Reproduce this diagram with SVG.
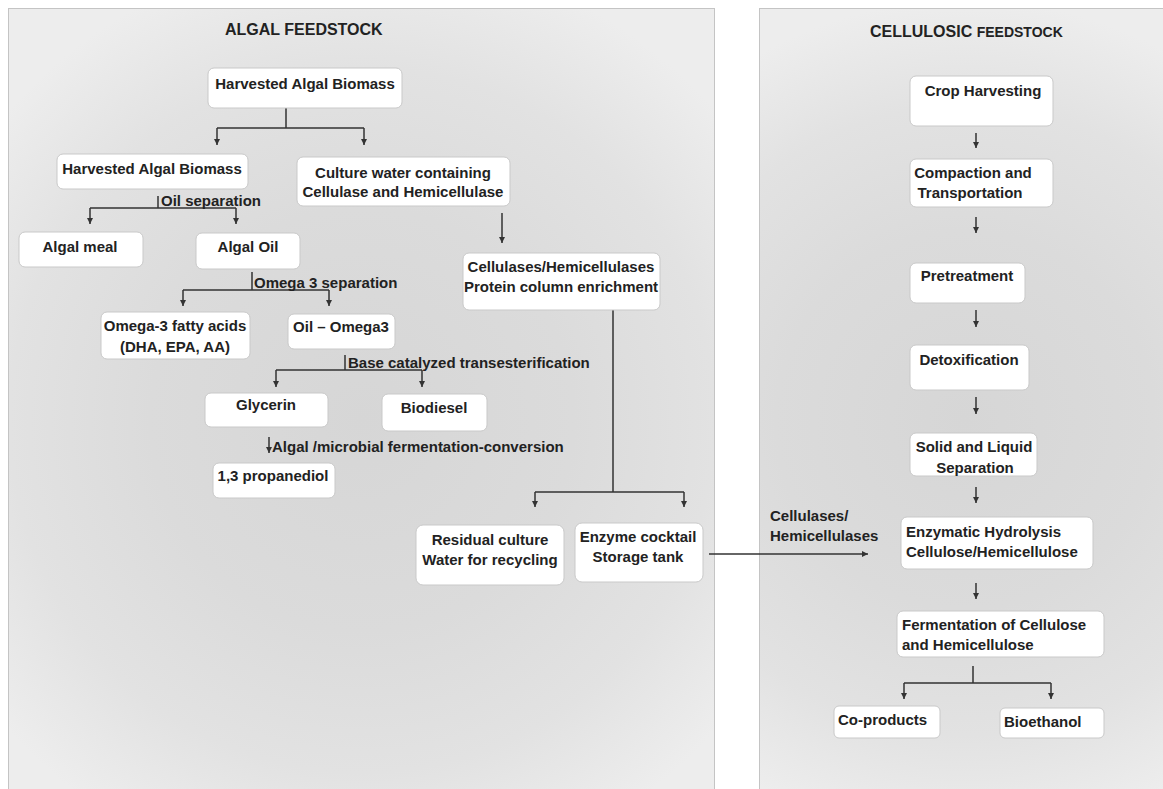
<svg xmlns="http://www.w3.org/2000/svg" width="1163" height="789" viewBox="0 0 1163 789">
<defs>
<radialGradient id="gL" gradientUnits="userSpaceOnUse" cx="362" cy="420" r="470">
<stop offset="0" stop-color="#d6d6d6"/>
<stop offset="0.45" stop-color="#dbdbdb"/>
<stop offset="0.75" stop-color="#e2e2e2"/>
<stop offset="1" stop-color="#ededed"/>
</radialGradient>
<radialGradient id="gR" gradientUnits="userSpaceOnUse" cx="965" cy="420" r="420">
<stop offset="0" stop-color="#d6d6d6"/>
<stop offset="0.45" stop-color="#dbdbdb"/>
<stop offset="0.75" stop-color="#e2e2e2"/>
<stop offset="1" stop-color="#ededed"/>
</radialGradient>
<marker id="ah" viewBox="0 0 10 10" refX="10" refY="5" markerWidth="6" markerHeight="6" markerUnits="userSpaceOnUse" orient="auto">
<path d="M0,0 L10,5 L0,10 z" fill="#333"/>
</marker>
</defs>
<style>
.panel{stroke:#c4c4c4;stroke-width:1}
.box{fill:#ffffff;stroke:#c9c9c9;stroke-width:1}
text{font-family:"Liberation Sans",Arial,sans-serif;font-weight:bold;font-size:15px;fill:#222}
.c{text-anchor:middle}
.title{font-size:16px}
.ln{fill:none;stroke:#333;stroke-width:1.5}
.ar{fill:none;stroke:#333;stroke-width:1.5;marker-end:url(#ah)}
</style>
<rect x="0" y="0" width="1163" height="789" fill="#ffffff"/>
<rect class="panel" x="8.5" y="8.5" width="706" height="800" fill="url(#gL)"/>
<rect class="panel" x="759.5" y="8.5" width="420" height="800" fill="url(#gR)"/>
<text class="title" x="225" y="35">ALGAL FEEDSTOCK</text>
<text class="title" x="870" y="37">CELLULOSIC <tspan font-size="14">FEEDSTOCK</tspan></text>

<g id="connectors">
<path class="ln" d="M286,108 V128 M217,128 H364"/>
<path class="ar" d="M217,128 V145"/>
<path class="ar" d="M364,128 V145"/>
<path class="ln" d="M158,196 V208 M90,208 H236"/>
<path class="ar" d="M90,208 V224"/>
<path class="ar" d="M236,208 V224"/>
<path class="ar" d="M502,213 V243"/>
<path class="ln" d="M252,272 V290 M183,290 H329"/>
<path class="ar" d="M183,290 V306"/>
<path class="ar" d="M329,290 V306"/>
<path class="ln" d="M345,355 V370 M276,370 H422"/>
<path class="ar" d="M276,370 V387"/>
<path class="ar" d="M422,370 V387"/>
<path class="ar" d="M269,437 V453"/>
<path class="ln" d="M613,310 V492 M535,492 H684"/>
<path class="ar" d="M535,492 V507"/>
<path class="ar" d="M684,492 V507"/>
<path class="ar" d="M709,554 H868"/>
<path class="ar" d="M976,133 V148"/>
<path class="ar" d="M976,217 V233"/>
<path class="ar" d="M976,310 V327"/>
<path class="ar" d="M976,397 V414"/>
<path class="ar" d="M976,487 V503"/>
<path class="ar" d="M976,583 V599"/>
<path class="ln" d="M973,666 V683 M904,683 H1051"/>
<path class="ar" d="M904,683 V699"/>
<path class="ar" d="M1051,683 V699"/>
<text x="161" y="206">Oil separation</text>
<text x="254" y="288">Omega 3 separation</text>
<text x="348" y="368">Base catalyzed transesterification</text>
<text x="272" y="452">Algal /microbial fermentation-conversion</text>
<text x="770" y="521">Cellulases/</text>
<text x="770" y="541">Hemicellulases</text>
</g>

<g id="n_top_biomass"><rect class="box" x="208" y="68" width="194" height="40" rx="6"/><text class="c" x="305" y="89">Harvested Algal Biomass</text></g>
<g id="n_biomass2"><rect class="box" x="57" y="154" width="191" height="35" rx="6"/><text class="c" x="152" y="174">Harvested Algal Biomass</text></g>
<g id="n_culture_water"><rect class="box" x="297" y="157" width="213" height="49" rx="6"/><text class="c" x="403" y="178">Culture water containing</text><text class="c" x="403" y="197">Cellulase and Hemicellulase</text></g>
<g id="n_algal_meal"><rect class="box" x="19" y="232" width="124" height="35" rx="6"/><text class="c" x="80" y="252">Algal meal</text></g>
<g id="n_algal_oil"><rect class="box" x="196" y="233" width="104" height="36" rx="6"/><text class="c" x="248" y="252">Algal Oil</text></g>
<g id="n_enrichment"><rect class="box" x="463" y="253" width="197" height="57" rx="6"/><text class="c" x="561" y="272">Cellulases/Hemicellulases</text><text class="c" x="561" y="292">Protein column enrichment</text></g>
<g id="n_omega3"><rect class="box" x="101" y="312" width="149" height="47" rx="6"/><text class="c" x="175" y="331">Omega-3 fatty acids</text><text class="c" x="175" y="352">(DHA, EPA, AA)</text></g>
<g id="n_oil_omega3"><rect class="box" x="288" y="314" width="107" height="35" rx="6"/><text class="c" x="341" y="332">Oil – Omega3</text></g>
<g id="n_glycerin"><rect class="box" x="205" y="393" width="123" height="34" rx="6"/><text class="c" x="266" y="410">Glycerin</text></g>
<g id="n_biodiesel"><rect class="box" x="382" y="394" width="105" height="37" rx="6"/><text class="c" x="434" y="413">Biodiesel</text></g>
<g id="n_propanediol"><rect class="box" x="213" y="463" width="122" height="35" rx="6"/><text class="c" x="273" y="481">1,3 propanediol</text></g>
<g id="n_residual"><rect class="box" x="416" y="525" width="148" height="60" rx="7"/><text class="c" x="490" y="545">Residual culture</text><text class="c" x="490" y="565">Water for recycling</text></g>
<g id="n_cocktail"><rect class="box" x="575" y="523" width="128" height="59" rx="7"/><text class="c" x="638" y="542">Enzyme cocktail</text><text class="c" x="638" y="562">Storage tank</text></g>

<g id="n_crop"><rect class="box" x="910" y="76" width="143" height="50" rx="6"/><text class="c" x="983" y="96">Crop Harvesting</text></g>
<g id="n_compaction"><rect class="box" x="910" y="159" width="143" height="48" rx="6"/><text class="c" x="973" y="178">Compaction and</text><text class="c" x="970" y="198">Transportation</text></g>
<g id="n_pretreatment"><rect class="box" x="910" y="263" width="115" height="40" rx="6"/><text class="c" x="967" y="281">Pretreatment</text></g>
<g id="n_detox"><rect class="box" x="910" y="345" width="119" height="45" rx="6"/><text class="c" x="969" y="365">Detoxification</text></g>
<g id="n_solid_liquid"><rect class="box" x="910" y="433" width="127" height="43" rx="6"/><text class="c" x="974" y="452">Solid and Liquid</text><text class="c" x="975" y="473">Separation</text></g>
<g id="n_enzymatic"><rect class="box" x="901" y="517" width="192" height="52" rx="6"/><text x="906" y="537">Enzymatic Hydrolysis</text><text x="906" y="557">Cellulose/Hemicellulose</text></g>
<g id="n_fermentation"><rect class="box" x="897" y="611" width="207" height="46" rx="6"/><text x="902" y="630">Fermentation of Cellulose</text><text x="902" y="650">and Hemicellulose</text></g>
<g id="n_coproducts"><rect class="box" x="834" y="706" width="106" height="32" rx="5"/><text x="838" y="725">Co-products</text></g>
<g id="n_bioethanol"><rect class="box" x="1000" y="708" width="104" height="30" rx="5"/><text x="1004" y="727">Bioethanol</text></g>
</svg>
